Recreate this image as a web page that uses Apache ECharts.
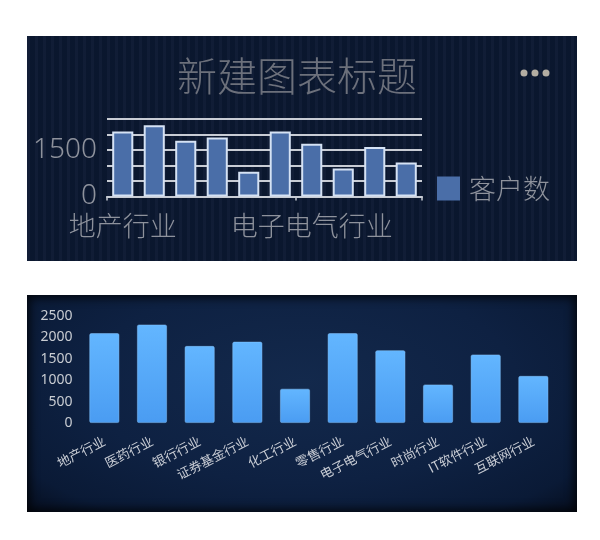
<!DOCTYPE html>
<html>
<head>
<meta charset="utf-8">
<script src="https://cdn.jsdelivr.net/npm/echarts@6/dist/echarts.min.js"></script>
<style>
  html, body { margin: 0; padding: 0; background: #ffffff; width: 600px; height: 540px; overflow: hidden; }
  #top {
    position: absolute; left: 27px; top: 36px; width: 550px; height: 225px;
    background-color: #0b1831;
    background-image: repeating-linear-gradient(90deg, rgba(255,255,255,0.022) 0px, rgba(255,255,255,0.022) 3px, rgba(0,0,0,0.06) 3px, rgba(0,0,0,0.06) 8px);
  }
  #bottom {
    position: absolute; left: 27px; top: 295px; width: 550px; height: 217px;
    background: radial-gradient(ellipse at 50% 40%, #13294c 0%, #0e2142 55%, #0a1a36 85%, #060e1f 100%);
    box-shadow: inset 0 0 10px 3px rgba(0,0,0,0.75);
  }
</style>
</head>
<body>
<div id="top"></div>
<div id="bottom"></div>
<script>
// ---- data ----
const categories = ['地产行业', '医药行业', '银行行业', '证券基金行业', '化工行业', '零售行业', '电子电气行业', '时尚行业', 'IT软件行业', '互联网行业'];
const customers = [2100, 2300, 1800, 1900, 800, 2100, 1700, 900, 1600, 1100];
const topTickLabels = [0, 1500];
const seriesName = '客户数';
const titleText = '新建图表标题';

const cjk = '"Noto Sans CJK SC", "Noto Sans", sans-serif';

// ---- top chart ----
const topChart = echarts.init(document.getElementById('top'), null, { renderer: 'canvas' });
topChart.setOption({
  backgroundColor: 'transparent',
  animation: false,
  title: {
    text: titleText,
    left: 270, top: 20, padding: 0,
    textAlign: 'center',
    textStyle: { color: '#6c707b', fontSize: 40, fontWeight: 300, fontFamily: cjk }
  },
  legend: {
    data: [seriesName],
    left: 410, top: 139, padding: 0,
    itemWidth: 23, itemHeight: 24, itemGap: 10,
    icon: 'rect',
    itemStyle: { color: '#4a6ea8', borderWidth: 0 },
    textStyle: { color: '#8e929c', fontSize: 27, fontWeight: 300, fontFamily: cjk, padding: [0, 0, 0, 4] }
  },
  graphic: [
    { type: 'circle', shape: { cx: 497, cy: 37, r: 3.5 }, style: { fill: '#b3ada2' } },
    { type: 'circle', shape: { cx: 508, cy: 37, r: 3.5 }, style: { fill: '#b3ada2' } },
    { type: 'circle', shape: { cx: 519, cy: 37, r: 3.5 }, style: { fill: '#b3ada2' } }
  ],
  grid: { left: 80, top: 83, width: 315, height: 77.5, containLabel: false },
  xAxis: {
    type: 'category',
    data: categories,
    axisLine: { show: true, lineStyle: { color: '#c8ccd4', width: 2 } },
    axisTick: { show: true, length: 4, lineStyle: { color: '#c8ccd4', width: 1.5 } },
    axisLabel: { interval: 5, color: '#8e929c', fontSize: 27, fontWeight: 300, fontFamily: cjk, margin: 16 }
  },
  yAxis: {
    type: 'value', min: 0, max: 2500, interval: 500,
    axisLine: { show: false }, axisTick: { show: false },
    splitLine: { show: true, lineStyle: { color: '#c8ccd4', width: 2 } },
    axisLabel: {
      margin: 10, color: '#8e929c', fontSize: 28, fontWeight: 300, fontFamily: '"Noto Sans", sans-serif',
      formatter: v => topTickLabels.includes(v) ? String(v) : ''
    }
  },
  series: [{
    name: seriesName,
    type: 'bar',
    data: customers,
    barCategoryGap: '33%',
    itemStyle: { color: '#4a6ea8', borderColor: '#d5e2f4', borderWidth: 2 }
  }]
});

// ---- bottom chart ----
const bottomChart = echarts.init(document.getElementById('bottom'), null, { renderer: 'canvas' });
bottomChart.setOption({
  backgroundColor: 'transparent',
  animation: false,
  grid: { left: 53.5, top: 21, width: 476.7, height: 107, containLabel: false },
  xAxis: {
    type: 'category',
    data: categories,
    axisLine: { show: false }, axisTick: { show: false },
    axisLabel: { interval: 0, rotate: 27, color: '#c8ccd4', fontSize: 13, fontFamily: cjk, margin: 17 }
  },
  yAxis: {
    type: 'value', min: 0, max: 2500, interval: 500,
    axisLine: { show: false }, axisTick: { show: false },
    splitLine: { show: false },
    axisLabel: { margin: 8, color: '#c8ccd2', fontSize: 14, fontFamily: '"Noto Sans", sans-serif', formatter: v => String(v) }
  },
  series: [{
    name: seriesName,
    type: 'bar',
    data: customers,
    barCategoryGap: '37%',
    itemStyle: {
      borderRadius: 1.5,
      borderColor: 'rgba(140,200,255,0.6)', borderWidth: 0.8,
      color: new echarts.graphic.LinearGradient(0, 0, 0, 1, [
        { offset: 0, color: '#63b6ff' },
        { offset: 1, color: '#4a9cf2' }
      ])
    }
  }]
});
</script>
</body>
</html>
